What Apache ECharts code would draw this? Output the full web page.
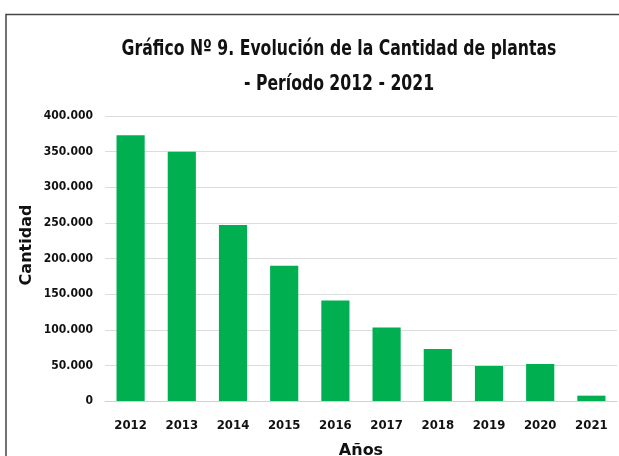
<!DOCTYPE html>
<html><head><meta charset="utf-8">
<script src="https://cdn.jsdelivr.net/npm/echarts@6/dist/echarts.min.js"></script>
<style>html,body{margin:0;padding:0;background:#fff}#c{width:619px;height:456px}</style>
</head><body><div id="c"></div>
<script>
const categories = ['2012','2013','2014','2015','2016','2017','2018','2019','2020','2021'];
const cantidad = [373000, 350000, 247000, 190000, 141000, 103000, 73000, 49000, 52000, 7500];
const titleLines = ['Gráfico Nº 9. Evolución de la Cantidad de plantas', '- Período 2012 - 2021'];
const yName = 'Cantidad';
const xName = 'Años';
const FONT = '"DejaVu Sans Condensed", "Liberation Sans Narrow", sans-serif';
const chart = echarts.init(document.getElementById('c'));
chart.setOption({
  backgroundColor: '#fff',
  animation: false,
  graphic: [
    {type:'rect', shape:{x:6, y:14.5, width:640, height:460}, style:{fill:'none', stroke:'#444', lineWidth:1.5}, silent:true},
    {type:'text', x:339, y:50, scaleX:0.83, style:{text:titleLines[0], fontFamily:FONT, fontWeight:'bold', fontSize:21, fill:'#111', align:'center', verticalAlign:'middle'}},
    {type:'text', x:339, y:85, scaleX:0.83, style:{text:titleLines[1], fontFamily:FONT, fontWeight:'bold', fontSize:21, fill:'#111', align:'center', verticalAlign:'middle'}},
    {type:'text', x:27, y:245, rotation:Math.PI/2, style:{text:yName, fontFamily:'"DejaVu Sans", sans-serif', fontWeight:'bold', fontSize:16, fill:'#111', align:'center', verticalAlign:'middle', letterSpacing:0.6}}
  ],
  grid: {left: 105, right: 2, top: 116, bottom: 55, containLabel: false, outerBoundsMode: 'none'},
  xAxis: {
    type: 'category', data: categories,
    name: xName, nameLocation: 'middle', nameGap: 42,
    nameTextStyle: {fontFamily: '"DejaVu Sans", sans-serif', fontWeight: 'bold', fontSize: 16, color: '#111'},
    axisLine: {lineStyle: {color: '#d0d0d0'}}, axisTick: {show: false},
    axisLabel: {fontFamily: FONT, fontWeight: 'bold', fontSize: 13, color: '#111', margin: 18}
  },
  yAxis: {
    type: 'value', min: 0, max: 400000, interval: 50000,
    axisLine: {show: false}, axisTick: {show: false},
    splitLine: {lineStyle: {color: '#dcdcdc'}},
    axisLabel: {fontFamily: FONT, fontWeight: 'bold', fontSize: 12, color: '#111', margin: 12,
      formatter: v => v === 0 ? '0' : (v/1000) + '.000'}
  },
  series: [{type: 'bar', data: cantidad, barWidth: '55%', itemStyle: {color: '#00b050'}}]
});
</script></body></html>
